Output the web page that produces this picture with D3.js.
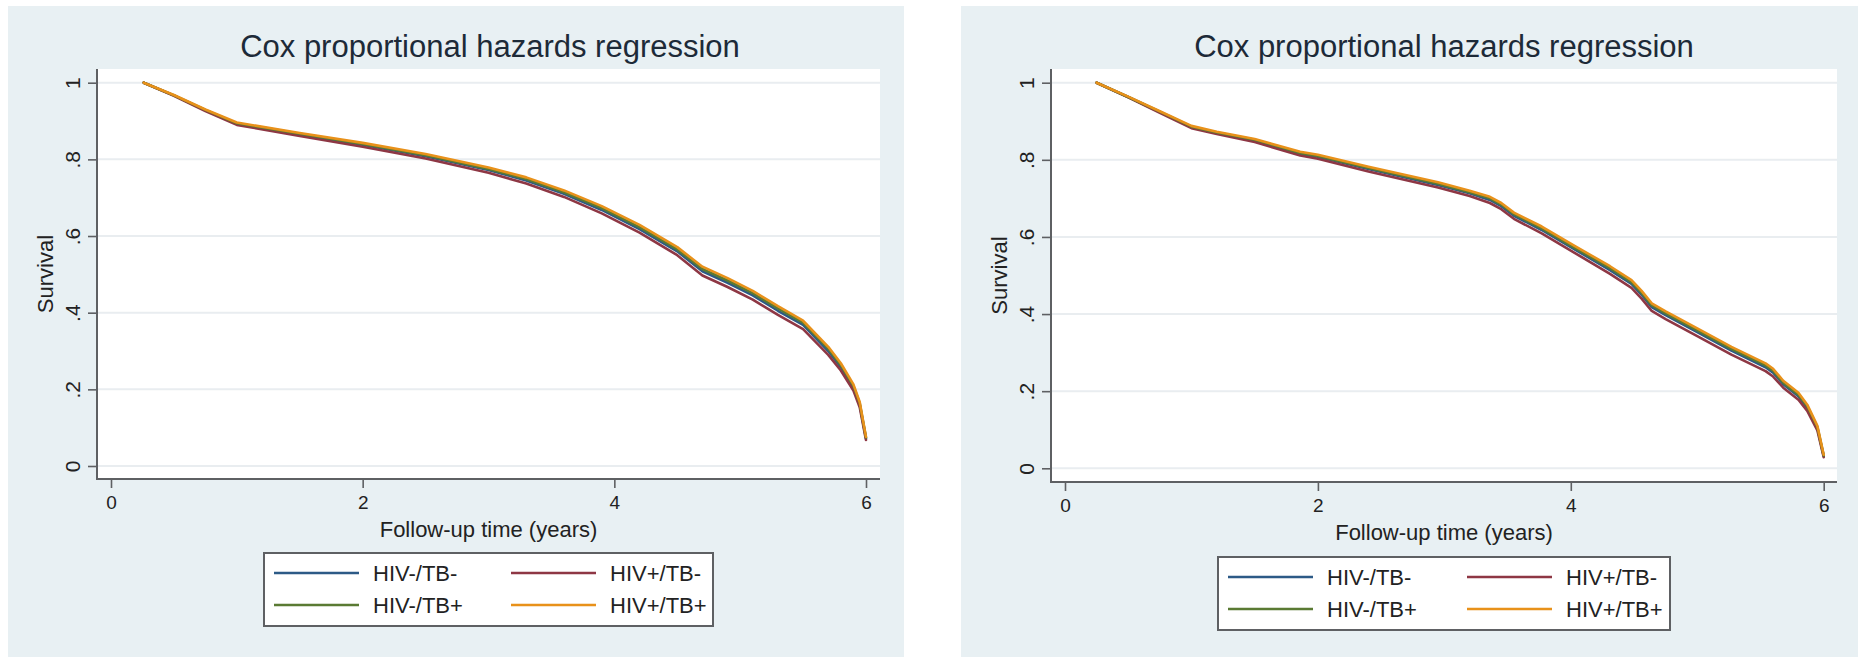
<!DOCTYPE html>
<html>
<head>
<meta charset="utf-8">
<script src="https://cdn.jsdelivr.net/npm/d3@7"></script>
<style>
  html, body { margin: 0; padding: 0; background: #ffffff; }
  svg { display: block; }
  text { font-family: "Liberation Sans", Arial, Helvetica, sans-serif; }
</style>
</head>
<body>
<svg id="chart" width="1858" height="657"></svg>
<script>
// ---------------- DATA ----------------
const chartTitle = "Cox proportional hazards regression";
const xAxisTitle = "Follow-up time (years)";
const yAxisTitle = "Survival";
const seriesNames = ["HIV-/TB-", "HIV+/TB-", "HIV-/TB+", "HIV+/TB+"];
const xTicks = [0, 2, 4, 6];
const xTickLabels = ["0", "2", "4", "6"];
const yTicks = [0, 0.2, 0.4, 0.6, 0.8, 1];
const yTickLabels = ["0", ".2", ".4", ".6", ".8", "1"];

// Left panel
const timeLeft = [0.26, 0.5, 0.75, 1.0, 1.5, 2.0, 2.5, 3.0, 3.3, 3.6, 3.9, 4.2, 4.5, 4.7, 4.9, 5.1, 5.3, 5.5, 5.7, 5.8, 5.9, 5.95, 6.0];
const leftHivNegTbNeg = [1.000,0.967,0.928,0.893,0.865,0.838,0.808,0.772,0.745,0.710,0.668,0.618,0.560,0.508,0.478,0.445,0.405,0.368,0.300,0.258,0.205,0.160,0.072];
const leftHivPosTbNeg = [1.000,0.966,0.926,0.890,0.861,0.833,0.802,0.765,0.737,0.702,0.659,0.609,0.550,0.497,0.467,0.434,0.394,0.357,0.290,0.249,0.197,0.153,0.068];
const leftHivNegTbPos = [1.000,0.967,0.929,0.894,0.867,0.840,0.811,0.775,0.749,0.714,0.673,0.623,0.565,0.514,0.484,0.451,0.411,0.374,0.306,0.263,0.209,0.164,0.074];
const leftHivPosTbPos = [1.000,0.968,0.930,0.896,0.869,0.843,0.814,0.779,0.753,0.719,0.678,0.629,0.571,0.520,0.490,0.457,0.417,0.379,0.311,0.268,0.213,0.167,0.076];

// Right panel
const timeRight = [0.25, 0.5, 0.75, 1.0, 1.2, 1.5, 1.86, 2.0, 2.4, 2.95, 3.2, 3.36, 3.45, 3.55, 3.77, 4.04, 4.31, 4.48, 4.56, 4.64, 4.75, 5.0, 5.27, 5.54, 5.6, 5.68, 5.80, 5.87, 5.95, 6.0];
const rightHivNegTbNeg = [1.000,0.963,0.924,0.885,0.870,0.850,0.816,0.808,0.776,0.735,0.713,0.696,0.680,0.655,0.618,0.566,0.514,0.478,0.450,0.418,0.397,0.353,0.305,0.262,0.248,0.218,0.187,0.157,0.104,0.032];
const rightHivPosTbNeg = [1.000,0.962,0.922,0.882,0.867,0.846,0.811,0.803,0.770,0.728,0.706,0.688,0.672,0.647,0.609,0.557,0.504,0.468,0.440,0.408,0.387,0.343,0.295,0.252,0.238,0.209,0.178,0.149,0.098,0.029];
const rightHivNegTbPos = [1.000,0.963,0.925,0.886,0.871,0.852,0.818,0.810,0.779,0.738,0.716,0.700,0.684,0.659,0.622,0.570,0.519,0.483,0.455,0.423,0.402,0.358,0.310,0.267,0.253,0.222,0.191,0.161,0.107,0.033];
const rightHivPosTbPos = [1.000,0.964,0.926,0.888,0.873,0.854,0.821,0.813,0.782,0.742,0.720,0.704,0.688,0.663,0.627,0.575,0.524,0.488,0.460,0.428,0.407,0.363,0.315,0.272,0.258,0.227,0.196,0.165,0.110,0.035];

// ---------------- STYLE / LAYOUT ----------------
const seriesColors = ["#2c5a86", "#8e3744", "#5a7a33", "#e8911a"];
const bgColor = "#e8f0f3";
const axisColor = "#5e6063";
const textColor = "#222222";
const titleColor = "#1d2a38";
const gridColor = "#e9edf0";

const panels = [
  { time: timeLeft, series: [leftHivNegTbNeg, leftHivPosTbNeg, leftHivNegTbPos, leftHivPosTbPos],
    bg: { x: 8, y: 6, w: 896, h: 651 },
    plot: { x0: 97, y0: 69, x1: 880, y1: 479 },
    xRange: [111, 866], yRange: [466, 82.7],
    titleX: 490, titleY: 57, xTitleY: 537, yTitleX: 53,
    legend: { x0: 264, y0: 553, x1: 713, y1: 626, rows: [573, 605], col2: 237 } },
  { time: timeRight, series: [rightHivNegTbNeg, rightHivPosTbNeg, rightHivNegTbPos, rightHivPosTbPos],
    bg: { x: 961, y: 6, w: 897, h: 651 },
    plot: { x0: 1051, y0: 69, x1: 1837, y1: 482 },
    xRange: [1065, 1823.7], yRange: [468.3, 82.7],
    titleX: 1444, titleY: 57, xTitleY: 540, yTitleX: 1007,
    legend: { x0: 1218, y0: 557, x1: 1670, y1: 630, rows: [577, 609], col2: 239 } }
];

const svg = d3.select("#chart");
svg.append("rect").attr("x", 0).attr("y", 0).attr("width", 1858).attr("height", 657).attr("fill", "#ffffff");

panels.forEach(p => {
  const g = svg.append("g");
  g.append("rect").attr("x", p.bg.x).attr("y", p.bg.y).attr("width", p.bg.w).attr("height", p.bg.h).attr("fill", bgColor);
  // plot region
  g.append("rect").attr("x", p.plot.x0).attr("y", p.plot.y0)
    .attr("width", p.plot.x1 - p.plot.x0).attr("height", p.plot.y1 - p.plot.y0).attr("fill", "#ffffff");

  const x = d3.scaleLinear().domain([0, 6]).range(p.xRange);
  const y = d3.scaleLinear().domain([0, 1]).range(p.yRange);

  // gridlines
  g.append("g").selectAll("line").data(yTicks).join("line")
    .attr("x1", p.plot.x0 + 1).attr("x2", p.plot.x1)
    .attr("y1", d => y(d)).attr("y2", d => y(d))
    .attr("stroke", gridColor).attr("stroke-width", 2);

  // curves
  const line = d3.line().x((d, i) => x(p.time[i])).y(d => y(d));
  p.series.forEach((s, k) => {
    g.append("path").datum(s).attr("d", line)
      .attr("fill", "none").attr("stroke", seriesColors[k])
      .attr("stroke-width", 2.6).attr("stroke-linejoin", "round").attr("stroke-linecap", "round");
  });

  // Y axis
  const yAxis = d3.axisLeft(y).tickValues(yTicks).tickFormat((d, i) => yTickLabels[i]).tickSize(9).tickSizeOuter(0);
  const gy = g.append("g").attr("transform", `translate(${p.plot.x0},0)`).call(yAxis);
  gy.select(".domain").remove();
  gy.selectAll(".tick line").attr("stroke", axisColor).attr("stroke-width", 1.6);
  gy.selectAll(".tick text")
    .attr("x", null).attr("dy", null)
    .attr("transform", "translate(-17,0) rotate(-90)")
    .attr("text-anchor", "middle")
    .attr("fill", textColor)
    .style("font-size", "21px")
    .style("font-family", "'Liberation Sans', Arial, sans-serif");

  // X axis
  const xAxis = d3.axisBottom(x).tickValues(xTicks).tickFormat((d, i) => xTickLabels[i]).tickSize(9).tickPadding(8).tickSizeOuter(0);
  const gx = g.append("g").attr("transform", `translate(0,${p.plot.y1})`).call(xAxis);
  gx.select(".domain").remove();
  gx.selectAll(".tick line").attr("stroke", axisColor).attr("stroke-width", 1.6);
  gx.selectAll(".tick text")
    .attr("fill", textColor)
    .style("font-size", "19px")
    .style("font-family", "'Liberation Sans', Arial, sans-serif");

  // axis lines
  g.append("line").attr("x1", p.plot.x0).attr("x2", p.plot.x0).attr("y1", p.plot.y0).attr("y2", p.plot.y1 + 1)
    .attr("stroke", axisColor).attr("stroke-width", 2);
  g.append("line").attr("x1", p.plot.x0).attr("x2", p.plot.x1).attr("y1", p.plot.y1).attr("y2", p.plot.y1)
    .attr("stroke", axisColor).attr("stroke-width", 2);

  // titles
  g.append("text").attr("x", p.titleX).attr("y", p.titleY).attr("text-anchor", "middle")
    .attr("fill", titleColor).style("font-size", "31px").text(chartTitle);
  g.append("text").attr("x", (p.plot.x0 + p.plot.x1) / 2).attr("y", p.xTitleY).attr("text-anchor", "middle")
    .attr("fill", textColor).style("font-size", "22px").text(xAxisTitle);
  g.append("text").attr("transform", `translate(${p.yTitleX},${(p.plot.y0 + p.plot.y1) / 2}) rotate(-90)`)
    .attr("text-anchor", "middle").attr("fill", textColor).style("font-size", "22px").text(yAxisTitle);

  // legend
  const L = p.legend;
  g.append("rect").attr("x", L.x0).attr("y", L.y0).attr("width", L.x1 - L.x0).attr("height", L.y1 - L.y0)
    .attr("fill", "#ffffff").attr("stroke", axisColor).attr("stroke-width", 2);
  seriesNames.forEach((name, k) => {
    const row = Math.floor(k / 2), col = k % 2;
    const sx = L.x0 + 10 + col * L.col2;
    const ly = L.rows[row];
    g.append("line").attr("x1", sx).attr("x2", sx + 85).attr("y1", ly).attr("y2", ly)
      .attr("stroke", seriesColors[k]).attr("stroke-width", 2.4);
    g.append("text").attr("x", sx + 99).attr("y", ly + 8).attr("fill", textColor)
      .style("font-size", "22px").text(name);
  });
});
</script>
</body>
</html>
